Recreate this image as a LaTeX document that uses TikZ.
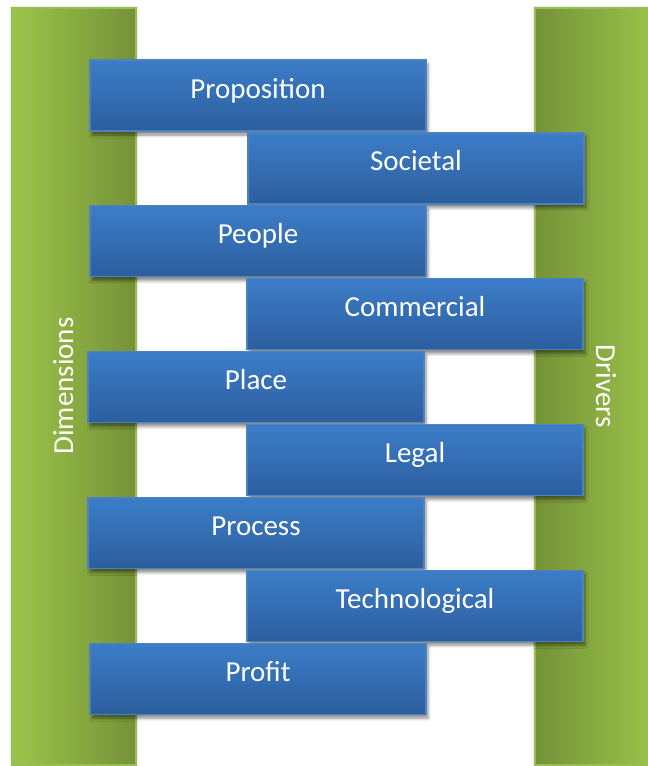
\documentclass[tikz,border=0pt]{standalone}
\usepackage{fontspec}
\setmainfont{Carlito}
\usetikzlibrary{shadows,shadows.blur}
\definecolor{boxtop}{RGB}{60,125,200}
\definecolor{boxbot}{RGB}{44,94,158}
\definecolor{boxline}{RGB}{79,129,189}
\definecolor{barlight}{RGB}{156,196,74}
\definecolor{bardark}{RGB}{117,146,56}
\definecolor{barline}{RGB}{150,190,80}

\begin{document}
\begin{tikzpicture}[
  x=1pt, y=-1pt,
  font=\fontsize{29}{34}\selectfont,
  barL/.style={rectangle, minimum width=124pt, minimum height=757pt, draw=barline, line width=1.2pt, left color=barlight, right color=bardark, blur shadow={shadow xshift=0pt, shadow yshift=0pt, shadow blur radius=3pt, shadow opacity=30}},
  barR/.style={barL, left color=bardark, right color=barlight},
  dimbox/.style={rectangle, minimum width=336pt, minimum height=71pt, draw=boxline, line width=1.2pt, top color=boxtop, bottom color=boxbot, text=white, text height=15pt, text depth=10pt, blur shadow={shadow xshift=2pt, shadow yshift=-4pt, shadow blur radius=3pt, shadow opacity=45}},
  barlab/.style={text=white, inner sep=0pt, text height=21pt, text depth=7pt}
]
\useasboundingbox (0,0) rectangle (648,766);

% the two bars
\node[barL] (bl) at (74,386.5) {};
\node[barR] (br) at (597,386.5) {};
\node[barlab, rotate=90] (dimlab) at (66,386) {Dimensions};
\node[barlab, rotate=-90] (drvlab) at (603,386) {Drivers};

% dimensions (left) and drivers (right)
\node[dimbox] (dim1) at (258,95.5) {Proposition};
\node[dimbox] (drv1) at (416,168.4) {Societal};
\node[dimbox] (dim2) at (258,241.3) {People};
\node[dimbox] (drv2) at (415,314.2) {Commercial};
\node[dimbox] (dim3) at (256,387.1) {Place};
\node[dimbox] (drv3) at (415,460) {Legal};
\node[dimbox] (dim4) at (256,532.9) {Process};
\node[dimbox] (drv4) at (415,605.8) {Technological};
\node[dimbox] (dim5) at (258,678.7) {Profit};
\end{tikzpicture}
\end{document}
